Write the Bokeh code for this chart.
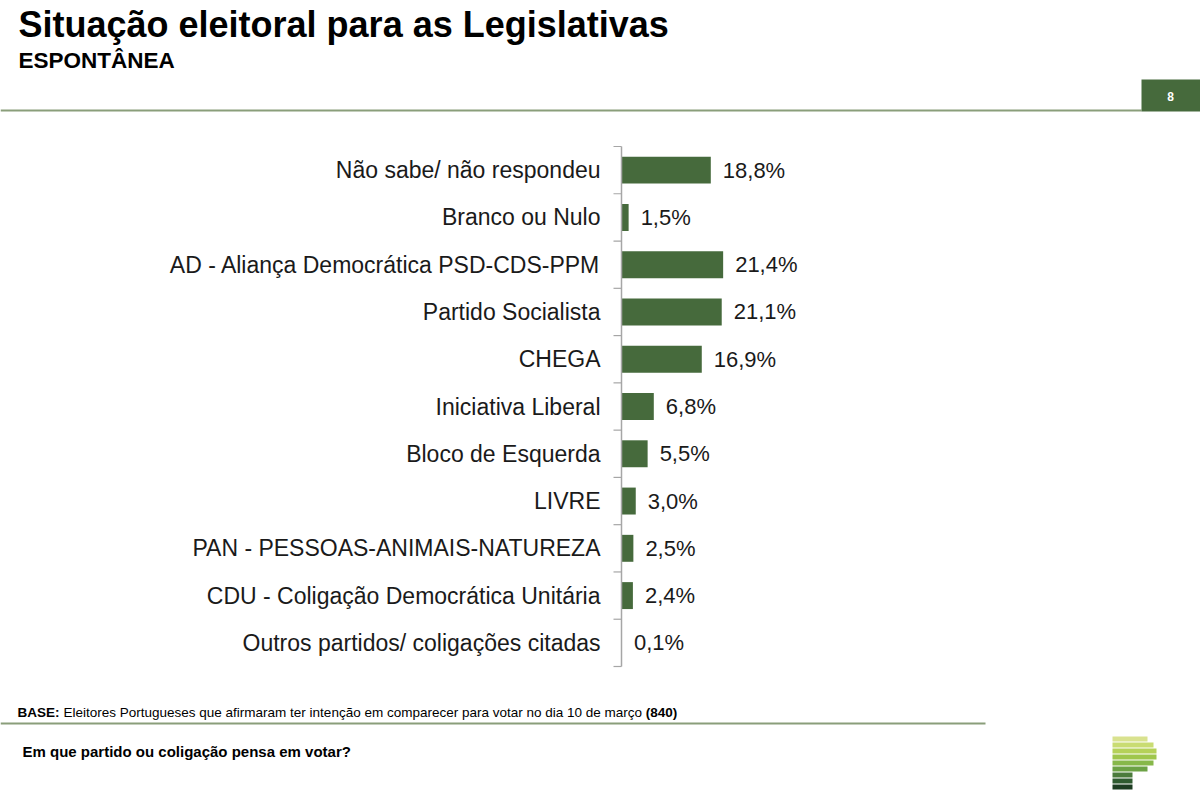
from bokeh.plotting import figure
from bokeh.models import Range1d, ColumnDataSource
from bokeh.core.properties import value
from bokeh.embed import file_html
from bokeh.resources import INLINE

categories = [
    "Não sabe/ não respondeu",
    "Branco ou Nulo",
    "AD - Aliança Democrática PSD-CDS-PPM",
    "Partido Socialista",
    "CHEGA",
    "Iniciativa Liberal",
    "Bloco de Esquerda",
    "LIVRE",
    "PAN - PESSOAS-ANIMAIS-NATUREZA",
    "CDU - Coligação Democrática Unitária",
    "Outros partidos/ coligações citadas",
]
values = [18.8, 1.5, 21.4, 21.1, 16.9, 6.8, 5.5, 3.0, 2.5, 2.4, 0.1]
value_labels = ["18,8%", "1,5%", "21,4%", "21,1%", "16,9%", "6,8%", "5,5%", "3,0%", "2,5%", "2,4%", "0,1%"]

title_text = "Situação eleitoral para as Legislativas"
subtitle_text = "ESPONTÂNEA"
page_number = "8"
base_bold = "BASE:"
base_text = "Eleitores Portugueses que afirmaram ter intenção em comparecer para votar no dia 10 de março"
base_n = "(840)"
question_text = "Em que partido ou coligação pensa em votar?"

logo_widths = [35, 41, 44, 44, 41, 35, 20, 20, 20]
logo_colors = ["#d9e28f", "#c9dc72", "#b5d159", "#9fc64c", "#87b84a", "#6ca245", "#4b7b3c", "#2f5b30", "#1d3d22"]

FONT = value("Liberation Sans")
GREEN = "#466a3c"
RULE = "#8a9e7a"
AXIS = "#a6a6a6"
TXT = "#1a1a1a"

WIDTH, HEIGHT = 1200, 800

# Arial-metric widths, used only to place the trailing bold "(840)"
W = {' ': .278, ',': .278, '.': .278, '(': .333, ')': .333, 'ç': .5, 'ã': .556}
for ch in "abdeghnopqu0123456789": W[ch] = .556
for ch in "cksvxyz": W[ch] = .5
for ch in "ft": W[ch] = .278
for ch in "ijl": W[ch] = .222
W['m'] = .833; W['r'] = .333; W['w'] = .722; W['E'] = .667; W['P'] = .667
def text_width(s, size):
    return sum(W.get(c, .6) for c in s) * size

# chart placement on the page (pixels)
AXIS_X = 621          # where 0 % sits
PX_PER_PCT = 4.75
TOP_PX, BOTTOM_PX = 146, 666   # category band edges
n = len(categories)
band = (BOTTOM_PX - TOP_PX) / n

pct_range = Range1d(-AXIS_X / PX_PER_PCT, (WIDTH - AXIS_X) / PX_PER_PCT)
cat_range = Range1d(n + (HEIGHT - BOTTOM_PX) / band, -TOP_PX / band)

p = figure(width=WIDTH, height=HEIGHT, output_backend="svg", toolbar_location=None,
           x_range=Range1d(0, WIDTH), y_range=Range1d(HEIGHT, 0), min_border=0)
p.extra_x_ranges = {"pct": pct_range}
p.extra_y_ranges = {"cat": cat_range}
p.axis.visible = False
p.grid.visible = False
p.outline_line_color = None

def txt(x, y, t, size, bold=False, color="black", align="left"):
    p.text(x=[x], y=[y], text=[t], text_font=FONT, text_font_size=size,
           text_font_style="bold" if bold else "normal", text_color=color,
           text_align=align, text_baseline="middle")

# ---------- header ----------
txt(18, 24, title_text, "36px", bold=True)
txt(18, 60, subtitle_text, "22.5px", bold=True)
p.quad(left=[0], right=[1141], top=[109], bottom=[111], fill_color=RULE, line_color=None)
p.quad(left=[1141], right=[1200], top=[79], bottom=[111], fill_color=GREEN, line_color=None)
txt(1170, 96, page_number, "12px", bold=True, color="white", align="center")

# ---------- chart ----------
centers = [i + 0.5 for i in range(n)]
bounds = list(range(n + 1))
src = ColumnDataSource(dict(y=centers, v=values, lab=value_labels, cat=categories))
kw = dict(x_range_name="pct", y_range_name="cat")

p.hbar(y="y", left=0, right="v", height=0.57, source=src, fill_color=GREEN, line_color=None, **kw)
p.text(x="v", y="y", text="lab", source=src, x_offset=12, text_align="left", text_baseline="middle",
       text_font=FONT, text_font_size="22px", text_color=TXT, **kw)
p.text(x=0, y="y", text="cat", source=src, x_offset=-21, text_align="right", text_baseline="middle",
       text_font=FONT, text_font_size="23px", text_color=TXT, **kw)
p.segment(x0=[0], y0=[0], x1=[0], y1=[n], line_color=AXIS, line_width=1.5, **kw)
p.ray(x=[0] * len(bounds), y=bounds, length=8, length_units="screen", angle=180, angle_units="deg",
      line_color=AXIS, line_width=1.2, **kw)

# ---------- footer ----------
fs = 13.5
txt(17, 711.5, base_bold, f"{fs}px", bold=True)
txt(63, 711.5, base_text, f"{fs}px")
txt(63 + text_width(base_text + " ", fs), 711.5, base_n, f"{fs}px", bold=True)
p.quad(left=[0], right=[985], top=[722], bottom=[724], fill_color=RULE, line_color=None)
txt(22, 750.5, question_text, "15px", bold=True)
tops = [736 + 6 * i for i in range(len(logo_widths))]
p.quad(left=[1112] * len(logo_widths), right=[1112 + w for w in logo_widths],
       top=tops, bottom=[t + 5 for t in tops], fill_color=logo_colors, line_color=None)

open("out.html", "w").write(file_html(p, INLINE))
